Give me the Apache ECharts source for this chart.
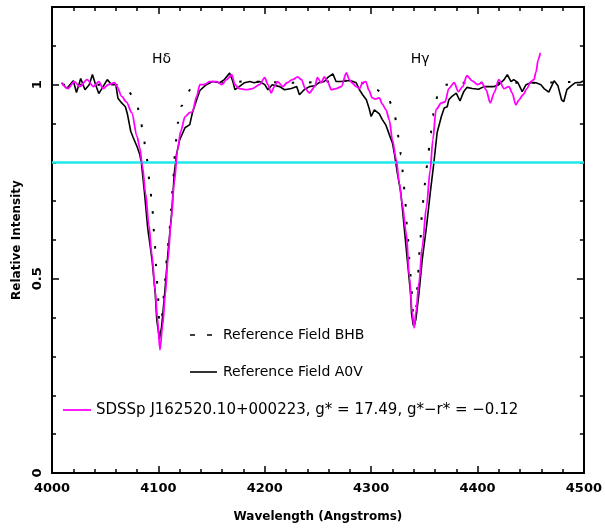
<!DOCTYPE html>
<html><head><meta charset="utf-8">
<script src="https://cdn.jsdelivr.net/npm/echarts@6/dist/echarts.min.js"></script>
<style>html,body{margin:0;padding:0;background:#fff}#c{width:605px;height:529px}</style>
</head><body><div id="c"></div>
<script>
// ---------- data ----------
const xTicks = [4000, 4100, 4200, 4300, 4400, 4500];
const yTickLabels = [0, 0.5, 1];
const cyanLevel = 0.8;

const bhbWave = [4010,4040,4060,4066,4071,4076,4080,4083,4086,4089,4092,4094,4096,4098,4099.5,4101,4101.8,4103,4104.5,4106,4108,4110,4112,4114,4116,4118,4122,4126,4130,4136,4142,4180,4230,4280,4290,4300,4305,4311,4316,4319,4322,4324,4326,4328,4330,4332,4334,4336,4338,4339.5,4340.5,4341.5,4342.5,4344,4346,4348,4350,4352,4354,4356,4358,4360,4364,4370,4380,4400,4450,4500];
const bhbFlux = [1.0,1.0,1.0,0.997,0.987,0.97,0.946,0.915,0.865,0.81,0.745,0.69,0.62,0.53,0.46,0.38,0.36,0.39,0.44,0.49,0.55,0.61,0.68,0.76,0.84,0.9,0.946,0.972,0.987,0.997,1.0,1.008,1.005,1.01,1.005,0.995,0.987,0.978,0.965,0.95,0.925,0.895,0.86,0.82,0.77,0.7,0.625,0.55,0.47,0.41,0.38,0.39,0.43,0.51,0.59,0.675,0.735,0.785,0.83,0.875,0.92,0.953,0.985,1.0,1.005,1.005,1.005,1.008];

const a0vWave = [4009,4014,4020,4023,4027,4031,4035,4038,4041,4044,4048,4052,4056,4060,4062,4065.5,4069,4071,4074,4076,4078,4080,4082.5,4084,4087,4090,4094,4097,4098.5,4101,4103,4106,4109,4112.5,4115,4117,4120,4125,4129.5,4132,4136,4139,4145,4151,4157.6,4162,4167,4170,4172,4176,4181,4186,4190,4195,4200,4203,4207,4214,4218.6,4225,4230,4232.6,4237,4242,4247,4251,4256,4259,4264,4267,4272,4276.7,4281,4286,4289,4292,4295.5,4298,4300,4303,4307.7,4310.5,4314,4317,4320,4322,4324.6,4328,4331,4334,4337,4338,4339.6,4342,4345,4348,4352,4355.5,4359,4362,4366,4368.7,4371.5,4373,4376,4380,4383.5,4387,4390,4395,4401,4406,4411,4415.6,4420,4425,4428,4431.5,4434,4438,4442,4445.6,4450,4455,4459.6,4462.5,4467,4472,4475.6,4479,4481,4484,4488,4492,4497,4500];
const a0vFlux = [1.005,0.99,1.01,0.98,1.016,0.987,1.0,1.026,1.0,0.977,0.995,1.013,1.0,1.0,0.965,0.953,0.943,0.923,0.88,0.866,0.853,0.84,0.82,0.8,0.72,0.63,0.55,0.464,0.394,0.345,0.376,0.464,0.567,0.67,0.773,0.82,0.858,0.889,0.897,0.928,0.961,0.985,1.0,1.008,1.005,1.013,1.03,1.008,0.987,0.995,1.005,1.008,1.005,1.008,1.0,0.987,1.0,0.995,0.987,0.99,0.995,0.974,0.987,0.995,0.997,1.005,1.008,1.018,1.028,1.008,1.008,1.01,1.01,1.005,0.987,0.974,0.961,0.94,0.918,0.935,0.925,0.91,0.895,0.872,0.85,0.82,0.773,0.72,0.634,0.549,0.464,0.41,0.38,0.394,0.464,0.549,0.634,0.72,0.8,0.876,0.918,0.94,0.943,0.961,0.97,0.978,0.958,0.982,0.993,0.99,0.988,0.995,0.995,0.995,1.0,1.013,1.026,1.008,1.013,1.005,0.982,1.0,1.005,1.005,1.0,0.99,0.981,1.01,0.997,0.961,0.956,0.987,0.997,1.005,1.006,1.01];

const sdssWave = [4009,4015,4021,4026,4033,4039,4044,4048,4053,4059,4061,4065.5,4070,4075,4080,4082.5,4085,4088,4091,4094,4097,4099,4101.5,4104,4106.5,4109,4112,4115,4118,4121,4125,4129.5,4132,4136,4139,4143.5,4148,4155,4159.5,4164,4169,4172,4176,4183,4188.5,4195,4200,4203,4206,4209,4212,4217,4221,4226,4231,4234.5,4238,4242,4247,4249.5,4253,4256,4259,4262.6,4267,4272,4276.7,4279.5,4282,4286,4289,4292,4295,4298,4301,4304,4307.7,4310.5,4314,4317,4320,4323.6,4326.5,4329,4333,4336,4338.6,4340.5,4342,4345,4348,4352,4355.5,4358,4361,4366,4369.6,4373,4378,4382,4386,4390,4395,4400,4404,4408,4412,4415.6,4420,4425,4429.6,4432.5,4436,4439,4442.8,4446.5,4450,4453,4455,4457,4459];
const sdssFlux = [1.005,0.99,1.008,0.995,1.013,0.995,1.008,0.99,1.0,1.005,0.995,0.97,0.955,0.928,0.866,0.837,0.79,0.72,0.64,0.56,0.47,0.4,0.317,0.38,0.46,0.55,0.65,0.75,0.832,0.88,0.917,0.928,0.93,0.97,1.0,1.0,1.008,1.008,1.0,1.013,1.026,1.0,0.99,0.987,0.99,1.0,1.018,1.0,0.979,0.995,1.008,0.995,1.005,1.013,1.02,1.013,0.99,0.979,0.995,1.018,1.005,1.02,1.008,0.987,0.99,0.995,1.03,1.013,1.005,0.995,0.99,1.005,1.008,0.985,0.966,0.963,0.966,0.95,0.935,0.91,0.858,0.807,0.747,0.696,0.618,0.505,0.412,0.374,0.412,0.49,0.582,0.686,0.78,0.858,0.936,0.953,0.956,0.99,1.005,0.982,0.995,1.023,1.01,1.0,1.005,0.987,0.953,0.979,1.013,0.99,0.995,0.979,0.948,0.961,0.974,0.99,1.008,1.013,1.033,1.064,1.082];

const lineLabels = ['Hδ', 'Hγ'];
const lineLabelPos = [[4103, 1.064], [4346, 1.064]];

// ---------- chart ----------
const pairs = (w, f) => w.map((x, i) => [x, f[i]]);
const FONT = 'DejaVu Sans';
const chart = echarts.init(document.getElementById('c'), null, {renderer: 'canvas'});

const tickStyle = {color: '#000', width: 1.5};
function xAx(pos, withLabels) {
  return {
    type: 'value', min: xTicks[0], max: xTicks[xTicks.length - 1], interval: 100, position: pos,
    axisLine: {show: true, onZero: false, lineStyle: {color: '#000', width: 2}},
    axisTick: {show: true, inside: true, length: 7, lineStyle: tickStyle},
    minorTick: {show: true, splitNumber: 5, length: 4, lineStyle: tickStyle},
    splitLine: {show: false}, minorSplitLine: {show: false},
    axisLabel: withLabels ? {show: true, color: '#000', fontFamily: FONT, fontWeight: 'bold', fontSize: 13, margin: 9,
      formatter: v => String(Math.round(v))} : {show: false},
    name: withLabels ? 'Wavelength (Angstroms)' : '',
    nameLocation: 'middle', nameGap: 38,
    nameTextStyle: {color: '#000', fontFamily: FONT, fontWeight: 'bold', fontSize: 12}
  };
}
function yAx(pos, interval, len, withLabels) {
  return {
    type: 'value', min: 0, max: 1.2, interval: interval, position: pos,
    axisLine: {show: true, onZero: false, lineStyle: {color: '#000', width: 2}},
    axisTick: {show: true, inside: true, length: len, lineStyle: tickStyle},
    splitLine: {show: false},
    axisLabel: withLabels ? {
      show: true, color: '#000', fontFamily: FONT, fontWeight: 'bold', fontSize: 13, margin: 8, rotate: 90,
      showMaxLabel: false,
      formatter: v => (yTickLabels.indexOf(+(+v).toFixed(2)) >= 0 ? String(+(+v).toFixed(2)) : '')
    } : {show: false},
    name: withLabels ? 'Relative Intensity' : '',
    nameLocation: 'middle', nameGap: 29,
    nameTextStyle: {color: '#000', fontFamily: FONT, fontWeight: 'bold', fontSize: 12}
  };
}

const option = {
  animation: false,
  backgroundColor: '#fff',
  grid: {left: 52, right: 20, top: 7, bottom: 56, containLabel: false},
  xAxis: [xAx('bottom', true), xAx('top', false)],
  yAxis: [yAx('left', 0.5, 7, true), yAx('left', 0.1, 4, false), yAx('right', 0.5, 7, false), yAx('right', 0.1, 4, false)],
  series: [
    {
      name: 'cyan', type: 'line', data: [], xAxisIndex: 0, yAxisIndex: 0,
      markLine: {silent: true, symbol: ['none', 'none'], label: {show: false},
        lineStyle: {color: '#1ee8e8', width: 2.5, type: 'solid'},
        data: [{yAxis: cyanLevel}]}
    },
    {
      name: 'Reference Field BHB', type: 'line', data: pairs(bhbWave, bhbFlux),
      showSymbol: false, smooth: 0.3, smoothMonotone: 'x',
      lineStyle: {color: '#000', width: 2, type: [2.5, 15]}, z: 3
    },
    {
      name: 'Reference Field A0V', type: 'line', data: pairs(a0vWave, a0vFlux),
      showSymbol: false, smooth: false,
      lineStyle: {color: '#000', width: 1.6}, z: 4
    },
    {
      name: 'SDSS', type: 'line', data: pairs(sdssWave, sdssFlux),
      showSymbol: false, smooth: 0.3, smoothMonotone: 'x',
      lineStyle: {color: '#ff00ff', width: 1.8}, z: 5
    }
  ]
};
chart.setOption(option);

const txt = {fontFamily: FONT, fontSize: 14, fill: '#000', textVerticalAlign: 'middle', verticalAlign: 'middle'};
const graphics = [
  {type: 'line', shape: {x1: 190, y1: 335, x2: 212, y2: 335}, style: {stroke: '#000', lineWidth: 1.6, lineDash: [5, 12]}},
  {type: 'text', x: 223, y: 335, style: Object.assign({text: 'Reference Field BHB'}, txt)},
  {type: 'line', shape: {x1: 190, y1: 372, x2: 217, y2: 372}, style: {stroke: '#000', lineWidth: 1.6}},
  {type: 'text', x: 223, y: 372, style: Object.assign({text: 'Reference Field A0V'}, txt)},
  {type: 'line', shape: {x1: 63, y1: 410, x2: 91, y2: 410}, style: {stroke: '#ff00ff', lineWidth: 1.8}},
  {type: 'text', x: 96, y: 410, style: Object.assign({}, txt, {text: 'SDSSp J162520.10+000223, g* = 17.49, g*−r* = −0.12', fontSize: 15})}
];
lineLabels.forEach((t, i) => {
  const p = chart.convertToPixel({xAxisIndex: 0, yAxisIndex: 0}, lineLabelPos[i]);
  graphics.push({type: 'text', x: p[0], y: p[1], style: Object.assign({text: t, textAlign: 'center', align: 'center'}, txt)});
});
chart.setOption({graphic: graphics});
</script>
</body></html>
